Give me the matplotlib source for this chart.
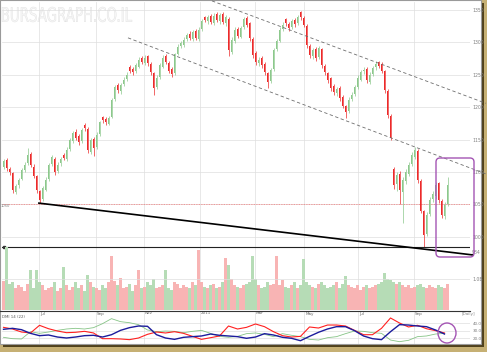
import matplotlib
matplotlib.use('Agg')
import matplotlib.pyplot as plt
from matplotlib.patches import Rectangle, FancyBboxPatch, Ellipse, PathPatch
from matplotlib.lines import Line2D
from matplotlib.textpath import TextPath
from matplotlib.font_manager import FontProperties
from matplotlib.transforms import IdentityTransform, blended_transform_factory, Affine2D
import numpy as np

# ---------------- data ----------------
opens = [1108, 1118, 1104, 1098, 1070, 1080, 1090, 1104, 1114, 1128, 1108, 1093, 1070, 1058, 1073, 1090, 1113, 1120, 1102, 1114,
         1126, 1120, 1136, 1148, 1162, 1155, 1148, 1172, 1166, 1132, 1151, 1139, 1159, 1184, 1182, 1175, 1185, 1213, 1234, 1225,
         1236, 1244, 1262, 1259, 1256, 1263, 1275, 1268, 1278, 1266, 1252, 1232, 1247, 1263, 1278, 1268, 1259, 1253, 1283, 1295,
         1296, 1306, 1313, 1305, 1317, 1305, 1321, 1338, 1333, 1340, 1330, 1343, 1333, 1344, 1330, 1336, 1286, 1302, 1321, 1309,
         1324, 1337, 1329, 1305, 1283, 1268, 1275, 1267, 1252, 1241, 1259, 1290, 1303, 1321, 1335, 1328, 1324, 1334, 1330, 1346,
         1337, 1325, 1294, 1279, 1290, 1278, 1289, 1263, 1252, 1244, 1232, 1222, 1229, 1216, 1201, 1195, 1213, 1221, 1232, 1243,
         1256, 1259, 1240, 1252, 1262, 1269, 1266, 1255, 1225, 1186, 1105, 1082, 1097, 1070, 1086, 1098, 1113, 1124, 1132, 1086,
         1039, 1005, 1036, 1059, 1063, 1082, 1055, 1032, 1051]
closes = [1116, 1106, 1100, 1072, 1078, 1088, 1103, 1111, 1126, 1111, 1095, 1072, 1057, 1075, 1088, 1111, 1122, 1100, 1111, 1119,
          1122, 1134, 1149, 1160, 1153, 1146, 1165, 1168, 1134, 1149, 1137, 1157, 1176, 1180, 1177, 1183, 1211, 1230, 1227, 1234,
          1242, 1250, 1257, 1254, 1265, 1273, 1270, 1276, 1268, 1254, 1230, 1245, 1265, 1276, 1270, 1257, 1251, 1281, 1293, 1298,
          1304, 1311, 1307, 1315, 1307, 1319, 1332, 1335, 1338, 1332, 1341, 1335, 1342, 1332, 1338, 1288, 1304, 1319, 1311, 1322,
          1335, 1327, 1307, 1281, 1270, 1273, 1265, 1254, 1239, 1257, 1288, 1301, 1319, 1327, 1330, 1322, 1332, 1328, 1338, 1339,
          1327, 1296, 1281, 1288, 1276, 1291, 1265, 1254, 1242, 1230, 1224, 1227, 1214, 1203, 1193, 1211, 1219, 1230, 1245, 1254,
          1257, 1242, 1250, 1260, 1267, 1264, 1257, 1227, 1188, 1153, 1080, 1095, 1072, 1088, 1100, 1111, 1126, 1134, 1088, 1041,
          1003, 1034, 1057, 1065, 1080, 1057, 1034, 1049, 1080]
highs = [1120, 1121, 1108, 1100, 1082, 1091, 1106, 1115, 1137, 1131, 1112, 1096, 1073, 1078, 1092, 1114, 1127, 1123, 1115, 1123,
         1130, 1138, 1152, 1164, 1166, 1158, 1168, 1175, 1169, 1153, 1154, 1161, 1179, 1187, 1185, 1187, 1214, 1234, 1237, 1238,
         1246, 1254, 1265, 1262, 1268, 1277, 1279, 1280, 1281, 1269, 1255, 1249, 1268, 1281, 1282, 1271, 1262, 1284, 1297, 1302,
         1308, 1315, 1317, 1319, 1320, 1323, 1336, 1341, 1342, 1344, 1345, 1347, 1346, 1347, 1342, 1339, 1308, 1323, 1324, 1326,
         1339, 1341, 1332, 1308, 1286, 1277, 1279, 1270, 1255, 1261, 1291, 1305, 1323, 1331, 1338, 1332, 1336, 1338, 1342, 1349,
         1341, 1328, 1297, 1292, 1293, 1295, 1292, 1266, 1255, 1247, 1236, 1231, 1232, 1219, 1204, 1215, 1223, 1234, 1249, 1258,
         1262, 1262, 1254, 1264, 1271, 1272, 1269, 1258, 1228, 1189, 1108, 1100, 1101, 1093, 1104, 1116, 1131, 1139, 1135, 1089,
         1042, 1038, 1062, 1070, 1085, 1085, 1058, 1054, 1092]
lows = [1104, 1102, 1095, 1068, 1066, 1076, 1087, 1100, 1111, 1108, 1090, 1068, 1052, 1055, 1070, 1086, 1109, 1096, 1098, 1110,
        1118, 1117, 1133, 1145, 1149, 1142, 1145, 1164, 1130, 1128, 1124, 1136, 1156, 1176, 1173, 1172, 1183, 1210, 1222, 1221,
        1232, 1240, 1252, 1250, 1252, 1260, 1266, 1265, 1264, 1250, 1219, 1228, 1244, 1260, 1266, 1252, 1246, 1250, 1280, 1291,
        1293, 1302, 1303, 1302, 1303, 1302, 1318, 1331, 1329, 1328, 1327, 1331, 1329, 1328, 1326, 1279, 1282, 1299, 1307, 1306,
        1321, 1323, 1302, 1276, 1265, 1263, 1260, 1249, 1230, 1237, 1256, 1287, 1300, 1317, 1326, 1318, 1320, 1324, 1327, 1335,
        1323, 1291, 1276, 1275, 1271, 1274, 1260, 1249, 1237, 1225, 1219, 1217, 1209, 1198, 1183, 1191, 1209, 1217, 1228, 1240,
        1251, 1237, 1236, 1248, 1258, 1260, 1252, 1222, 1183, 1149, 1074, 1070, 1050, 1021, 1082, 1094, 1109, 1120, 1083, 1036,
        984, 1001, 1032, 1054, 1059, 1052, 1029, 1028, 1048]
volume = [0.95, 2.03, 0.85, 0.9, 0.7, 0.8, 0.75, 0.6, 0.85, 1.29, 0.7, 1.29, 0.9, 0.8, 0.65, 0.7, 0.75, 0.9, 0.6, 0.7,
          1.39, 0.8, 0.65, 0.75, 0.9, 0.7, 0.8, 0.6, 1.13, 0.9, 0.75, 0.7, 0.65, 0.8, 0.7, 0.9, 1.74, 0.95, 0.8, 1.03,
          0.7, 0.75, 0.85, 0.6, 0.8, 1.29, 0.7, 0.75, 0.9, 0.8, 1.0, 0.7, 0.75, 0.8, 1.29, 0.7, 0.65, 0.9, 0.85, 0.7,
          0.8, 0.75, 0.7, 0.9, 0.8, 1.94, 0.9, 0.75, 0.7, 0.8, 0.85, 0.7, 0.75, 0.9, 1.68, 1.45, 1.0, 0.8, 0.75, 0.7,
          0.8, 0.85, 0.9, 1.74, 1.0, 0.8, 0.7, 0.75, 0.9, 0.8, 0.85, 1.74, 0.8, 0.97, 0.75, 0.7, 0.8, 0.9, 0.7, 0.8,
          1.65, 0.9, 0.8, 0.75, 0.7, 0.85, 0.9, 0.8, 0.7, 0.75, 0.8, 0.9, 0.7, 0.85, 1.1, 0.8, 0.75, 0.7, 0.8, 0.65,
          0.75, 0.8, 0.7, 0.75, 0.8, 0.85, 0.9, 1.19, 1.0, 0.97, 0.9, 0.85, 0.9, 0.8, 0.75, 0.8, 0.7, 0.75, 0.8, 0.85,
          0.75, 0.7, 0.8, 0.75, 0.7, 0.8, 0.75, 0.7, 0.85]

dmi_days = list(range(0, 148, 3))
adx = [31.6, 32.9, 31.1, 26.2, 23.1, 24, 21.3, 20, 21.3, 23.1, 23.6, 21.3, 24.4, 30.2, 33.8, 36, 35.6, 24.4, 20, 18.2,
       20.9, 21.8, 22.7, 25.3, 23.6, 22.7, 21.8, 19.6, 21.3, 25.8, 24, 20.9, 19.6, 16.4, 22.2, 27.6, 32, 35.1, 35.1, 29.8,
       22.7, 19.1, 17.8, 28.4, 37.8, 37.3, 36, 35.1, 30.7, 25.3]
di_red = [34.2, 32, 28, 26.7, 36.9, 32.4, 29.3, 27.1, 27.6, 28.9, 26.7, 19.1, 19.1, 18.7, 17.8, 20, 24.9, 28, 26.7, 28.4,
          26.2, 22.2, 18.2, 20.4, 22.7, 36, 32, 34.2, 38.7, 35.1, 28.4, 23.1, 21.3, 22.2, 34.7, 33.3, 37.3, 37.3, 36, 30.2,
          24.4, 24.4, 32.9, 46.7, 40, 34.7, 36.9, 32.4, 29.8, 26.7]
di_green = [20.9, 19.1, 18.7, 28.4, 26.2, 28, 30.2, 32, 32.9, 32, 33.8, 39.1, 45.8, 41.8, 40.4, 37.8, 30.7, 28.4, 29.3, 28.9,
            27.1, 28.9, 30.2, 26.2, 22.2, 20.9, 22.2, 25.8, 26.7, 24.9, 21.8, 25.8, 23.6, 21.8, 18.2, 17.3, 20.4, 21.8, 25.8, 29.3,
            28.9, 27.1, 26.2, 17.3, 15.1, 16.9, 21.8, 22.7, 25.3, 26.2]

month_labels = ['Jul', 'Sep', 'Nov', '2011', 'Mar', 'May', 'Jul', 'Sep']
month_pos = [11.8, 30.8, 46.8, 65.5, 83.8, 100.2, 118.2, 136.8]
price_levels = [1000, 1050, 1100, 1150, 1200, 1250, 1300, 1350]

support_level = 984
ref_level = 1051
trend_line = [(11.8, 1052), (156.5, 972)]
channel_upper = [(69.5, 1364), (160.8, 1206)]
channel_lower = [(41.5, 1307), (160.8, 1097)]

# ---------------- figure ----------------
W, H = 487, 352
fig = plt.figure(figsize=(W / 100, H / 100), dpi=100)
fig.patch.set_facecolor('#c6b074')

def fx(px):
    return px / W

def fy(py):
    return 1 - py / H

# frame: shadow + white panel
fig.add_artist(Rectangle((fx(3), fy(347)), fx(484) - fx(3), (347 - 3) / H, transform=fig.transFigure,
                         facecolor='#4f411c', edgecolor='none', zorder=-3))
fig.add_artist(Rectangle((0, fy(344)), fx(481), 344 / H, transform=fig.transFigure,
                         facecolor='white', edgecolor='#9a9a9a', lw=0.8, zorder=-2))

UP = '#8cc88c'
DOWN = '#ec2a2a'
GRID = '#dedede'

x0, x1 = fx(2), fx(470)
ax = fig.add_axes([x0, fy(310), x1 - x0, (310 - 2) / H])
vax = fig.add_axes([x0, fy(310), x1 - x0, (310 - 247) / H])
dax = fig.add_axes([x0, fy(344), x1 - x0, (344 - 312) / H])

n = len(closes)
idx = np.arange(n)
o = np.array(opens); c = np.array(closes); hi = np.array(highs); lo = np.array(lows)
up = c >= o
cols = np.where(up, UP, DOWN)

for a in (ax, vax, dax):
    a.set_xlim(-0.5, 155.5)
    for s in a.spines.values():
        s.set_visible(False)
    a.patch.set_alpha(0)

# watermark (condensed outline text)
tp = TextPath((0, 0), 'BURSAGRAPH.CO.IL', size=10, prop=FontProperties(family='DejaVu Sans'))
bb = tp.get_extents()
sx = (132 - 2) / bb.width
sy = (22 - 7) / bb.height
wm_tr = Affine2D().translate(-bb.x0, -bb.y0).scale(sx, sy).translate(2, H - 22)
fig.add_artist(PathPatch(wm_tr.transform_path(tp), transform=IdentityTransform(),
                         facecolor='#f8f8f8', edgecolor='#e2e2e2', lw=0.35, zorder=-1))

# price axes
ax.set_ylim(887.1, 1362.3)
ax.set_yticks(price_levels)
ax.set_yticklabels([str(v) for v in price_levels])
ax.yaxis.tick_right()
ax.tick_params(axis='y', length=0, pad=2, labelsize=3.3, labelcolor='#808080')
ax.set_xticks(month_pos)
ax.tick_params(axis='x', length=0, labelbottom=False)
ax.grid(True, color=GRID, lw=0.5)
ax.set_axisbelow(True)

ax.vlines(idx, lo, hi, colors=cols, lw=0.5, zorder=3)
ax.bar(idx, np.abs(c - o) + 0.8, bottom=np.minimum(o, c) - 0.4, width=0.5, color=cols, zorder=4, lw=0)

ax.axhline(ref_level, color='#f07a7a', lw=0.6, ls=(0, (1, 1)), zorder=2)
ax.axhline(support_level, color='#222222', lw=0.8, zorder=5)
ax.plot(*zip(*trend_line), color='black', lw=1.2, zorder=5, clip_on=False)
ax.plot(*zip(*channel_upper), color='#6e6e6e', lw=0.6, ls=(0, (4, 3)), zorder=5, clip_on=False)
ax.plot(*zip(*channel_lower), color='#6e6e6e', lw=0.6, ls=(0, (4, 3)), zorder=5, clip_on=False)
ax.plot([0.3], [support_level], marker='s', ms=1.8, color='#333333', zorder=6, clip_on=False)

fig.text(fx(0.5), fy(206), '1050', fontsize=2.6, color='#808080', va='center', ha='left')
fig.text(fx(472), fy(252), str(support_level), fontsize=3.3, color='#808080', va='center', ha='left')

# volume
vcols = np.where(up, '#f8b4b4', '#b6dcb6')
vax.set_ylim(0, 2.032)
vax.bar(idx, volume, width=0.8, color=vcols, lw=0, zorder=1)
vax.set_yticks([1.0])
vax.set_yticklabels(['1.0B'])
vax.yaxis.tick_right()
vax.tick_params(axis='y', length=0, pad=2, labelsize=3.3, labelcolor='#808080')
vax.grid(True, axis='y', color=GRID, lw=0.5)
vax.set_xticks([])

# divider
fig.add_artist(Line2D([0, x1], [fy(311), fy(311)], transform=fig.transFigure, color='#333333', lw=0.8))

# DMI panel
dax.set_ylim(12, 54.67)
dax.set_yticks([40, 30, 20])
dax.set_yticklabels(['40.0', '30.0', '20.0'])
dax.yaxis.tick_right()
dax.tick_params(axis='y', length=0, pad=2, labelsize=3.0, labelcolor='#808080')
dax.set_xticks(month_pos)
dax.tick_params(axis='x', length=0, labelbottom=False)
dax.grid(True, color=GRID, lw=0.5)
dax.plot(dmi_days, di_green, color='#86c486', lw=0.6)
dax.plot(dmi_days, di_red, color='#ff2020', lw=0.8)
dax.plot(dmi_days, adx, color='#1c1c9c', lw=1.0)
dax.text(fx(2), fy(317), 'DMI 14 (22)', transform=fig.transFigure, fontsize=2.8, color='#555555', va='center')

tr = blended_transform_factory(dax.transData, fig.transFigure)
for m, p in zip(month_labels, month_pos):
    dax.text(p + 0.4, fy(313.5), m, transform=tr, fontsize=3.0, color='#666666', va='center', ha='left', clip_on=False)
fig.text(fx(462), fy(313.5), '[Daily]', fontsize=3.0, color='#888888', va='center', ha='left')

# annotations
purple = '#a455b4'
fig.add_artist(FancyBboxPatch((436, H - 257), 38, 99, boxstyle='round,pad=0,rounding_size=4',
                              transform=IdentityTransform(), facecolor='none', edgecolor=purple, lw=1.0, zorder=10))
fig.add_artist(Ellipse((447, H - 333), 18, 20, transform=IdentityTransform(),
                       facecolor='none', edgecolor=purple, lw=1.0, zorder=10))

fig.savefig('out.png', dpi=100, facecolor=fig.get_facecolor())
